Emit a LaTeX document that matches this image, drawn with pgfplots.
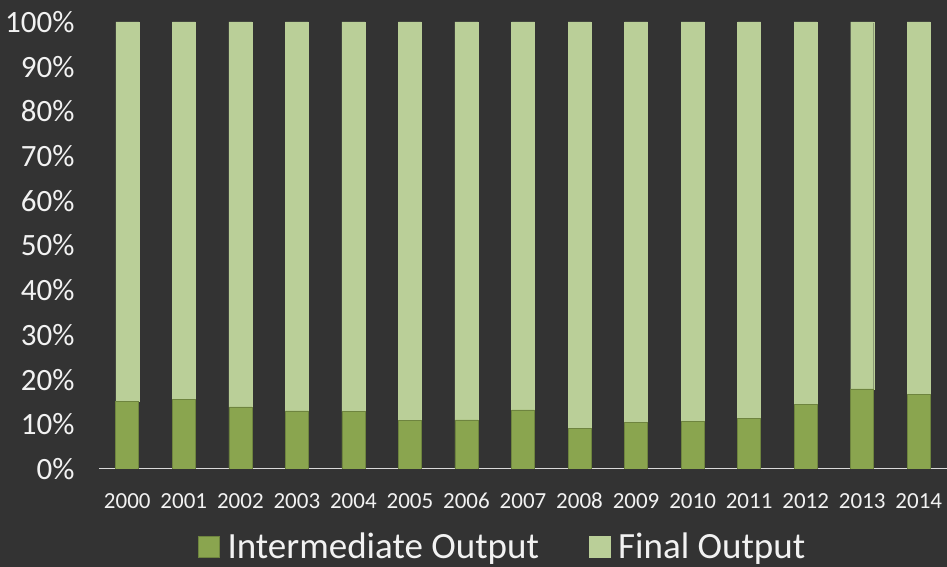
\documentclass[border=0pt]{standalone}
\usepackage{pgfplots}
\pgfplotsset{compat=1.18}
\usepackage{fontspec}
\setmainfont{Carlito}
\definecolor{bg}{HTML}{333333}
\definecolor{inter}{HTML}{8AA54F}
\definecolor{final}{HTML}{BACF98}
\definecolor{txt}{HTML}{F2F2F2}
\begin{document}
\begin{tikzpicture}
\fill[bg] (0,0) rectangle (947bp,567bp);
\useasboundingbox (0,0) rectangle (947bp,567bp);
\begin{axis}[
  at={(99bp,98bp)}, anchor=south west,
  scale only axis, width=848bp, height=447bp,
  ybar stacked, bar width=23bp,
  xmin=-0.5, xmax=14.5, ymin=0, ymax=100,
  xtick={0,...,14},
  xticklabels={2000,2001,2002,2003,2004,2005,2006,2007,2008,2009,2010,2011,2012,2013,2014},
  ytick={0,10,...,100},
  yticklabel={\pgfmathprintnumber{\tick}\%},
  /pgf/number format/assume math mode=true,
  axis line style={draw=none},
  axis x line*=bottom, axis y line*=left,
  major tick length=0pt,
  x tick label style={font=\fontsize{23bp}{26bp}\selectfont, text=txt, yshift=-20bp, text height=16bp, text depth=0bp},
  y tick label style={font=\fontsize{31bp}{34bp}\selectfont, text=txt, xshift=-21bp, text height=21bp, text depth=0bp},
  legend columns=2,
  legend style={at={(0.476,-0.174)}, anchor=center, draw=none, fill=none,
    font=\fontsize{37bp}{40bp}\selectfont, text=txt,
    /tikz/every odd column/.append style={column sep=6bp},
    /tikz/every even column/.append style={column sep=48bp}},
  legend image code/.code={\fill[#1] (0bp,-10.5bp) rectangle (21bp,10.5bp);},
]
\addplot[fill=inter, draw=inter!80!black, line width=0.6bp] coordinates {
(0,15.2) (1,15.5) (2,13.9) (3,13.0) (4,12.8) (5,10.8) (6,11.0) (7,13.2)
(8,9.0) (9,10.4) (10,10.6) (11,11.4) (12,14.4) (13,17.9) (14,16.6)};
\addlegendentry{Intermediate Output}
\addplot[fill=final, draw=final, line width=0.3bp] coordinates {
(0,84.8) (1,84.5) (2,86.1) (3,87.0) (4,87.2) (5,89.2) (6,89.0) (7,86.8)
(8,91.0) (9,89.6) (10,89.4) (11,88.6) (12,85.6) (13,82.1) (14,83.4)};
\addlegendentry{Final Output}
\draw[draw=white!85!black, line width=2bp] (rel axis cs:0,0) -- (rel axis cs:1,0);
\end{axis}
\end{tikzpicture}
\end{document}
